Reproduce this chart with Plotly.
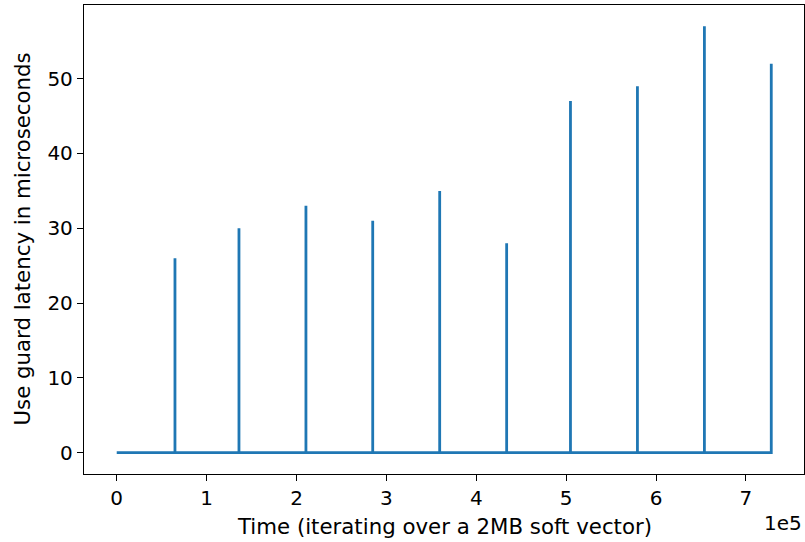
import plotly.graph_objects as go

# Spike data (time index, latency in microseconds)
spike_times = [64800, 136000, 210500, 284800, 359300, 433800, 504800, 579300, 653800, 728200]
spike_latency = [26, 30, 33, 31, 35, 28, 47, 49, 57, 52]
baseline_latency = 0
x_tick_vals = [0, 100000, 200000, 300000, 400000, 500000, 600000, 700000]
x_tick_text = ["0", "1", "2", "3", "4", "5", "6", "7"]
y_tick_vals = [0, 10, 20, 30, 40, 50]

# Build the series: baseline at 0 with single-sample spikes
xs = [0]
ys = [baseline_latency]
for t, v in zip(spike_times, spike_latency):
    xs += [t - 1, t]
    ys += [baseline_latency, v]
    if t != spike_times[-1]:
        xs.append(t + 1)
        ys.append(baseline_latency)

xmin, xmax = 0, max(spike_times)
ymin, ymax = baseline_latency, max(spike_latency)
xpad = (xmax - xmin) * 0.05
ypad = (ymax - ymin) * 0.05

FONT = "DejaVu Sans"
TICK = 20
TITLE = 21.3
fig = go.Figure()
fig.add_trace(go.Scatter(x=xs, y=ys, mode="lines",
                         line=dict(color="#1f77b4", width=2.8), showlegend=False))

axis_common = dict(showline=True, linecolor="black", linewidth=1.3, mirror=True,
                   ticks="outside", ticklen=6, tickwidth=1.3, tickcolor="black",
                   showgrid=False, zeroline=False,
                   tickfont=dict(family=FONT, size=TICK, color="black"))
fig.update_xaxes(range=[xmin - xpad, xmax + xpad], tickvals=x_tick_vals,
                 ticktext=x_tick_text, **axis_common)
fig.update_yaxes(range=[ymin - ypad, ymax + ypad], tickvals=y_tick_vals, **axis_common)

fig.add_annotation(text="Time (iterating over a 2MB soft vector)", xref="paper", yref="paper",
                   x=0.5, y=0, yshift=-52, showarrow=False, yanchor="middle",
                   font=dict(family=FONT, size=TITLE, color="black"))
fig.add_annotation(text="1e5", xref="paper", yref="paper", x=1, y=0, yshift=-49,
                   xanchor="right", yanchor="middle", showarrow=False,
                   font=dict(family=FONT, size=TICK, color="black"))
fig.add_annotation(text="Use guard latency in microseconds", xref="paper", yref="paper",
                   x=0, y=0.5, xshift=-62, textangle=-90, showarrow=False,
                   xanchor="center", yanchor="middle",
                   font=dict(family=FONT, size=TITLE, color="black"))

fig.update_layout(width=805, height=542,
                  margin=dict(l=84, r=1, t=5, b=68, autoexpand=False),
                  plot_bgcolor="white", paper_bgcolor="white",
                  font=dict(family=FONT, size=TICK, color="black"))
fig.write_html("out.html", config={"displayModeBar": False})

# remove the browser's default page margin so the figure sits at the window origin
with open("out.html", encoding="utf-8") as f:
    html = f.read()
html = html.replace("<body>", '<body style="margin:0;padding:0;overflow:hidden">', 1)
with open("out.html", "w", encoding="utf-8") as f:
    f.write(html)
